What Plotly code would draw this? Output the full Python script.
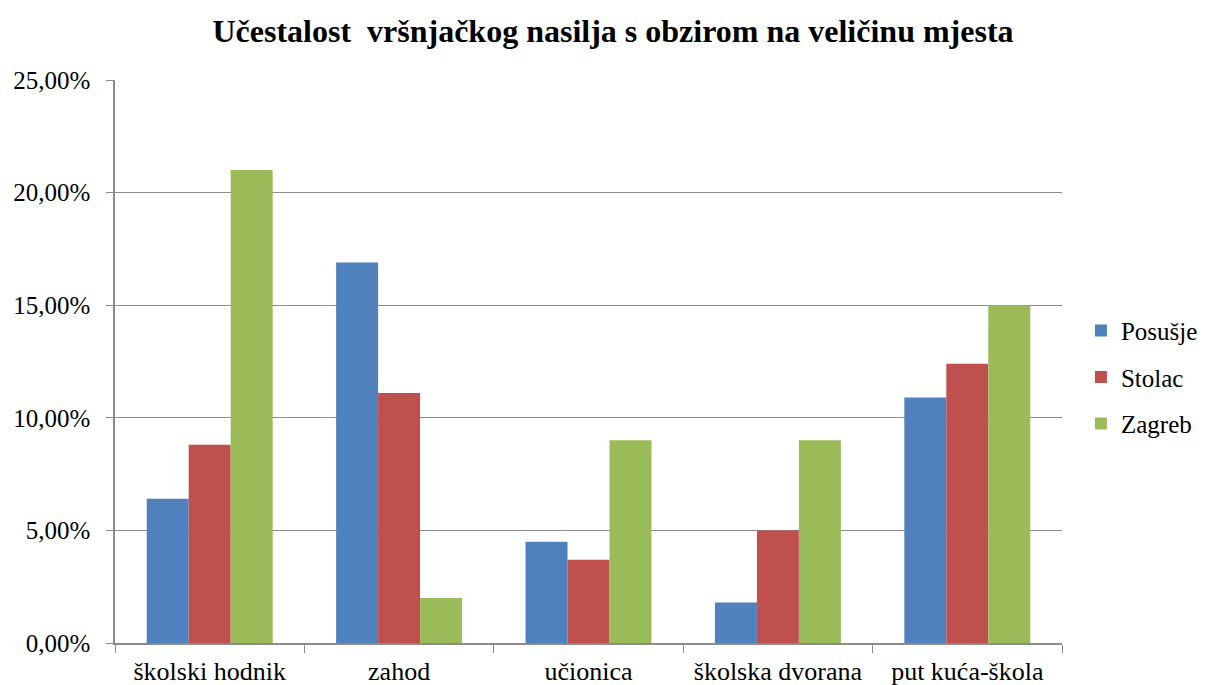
import plotly.graph_objects as go

categories = ["školski hodnik", "zahod", "učionica", "školska dvorana", "put kuća-škola"]
posusje = [0.064, 0.169, 0.045, 0.018, 0.109]
stolac = [0.088, 0.111, 0.037, 0.050, 0.124]
zagreb = [0.210, 0.020, 0.090, 0.090, 0.150]

series = [("Posušje", posusje, "#4F81BD"), ("Stolac", stolac, "#C0504D"), ("Zagreb", zagreb, "#9BBB59")]

fig = go.Figure()
for name, vals, col in series:
    fig.add_trace(go.Bar(x=categories, y=vals, name=name, marker_color=col,
                         marker_line_width=0, legendgroup=name))

font = "'Times New Roman', 'Liberation Serif', 'DejaVu Serif', serif"
W, H = 1199, 677
fig.update_layout(
    width=W, height=H,
    paper_bgcolor="white", plot_bgcolor="white",
    margin=dict(l=107, r=145, t=72, b=42, autoexpand=False),
    separators=",.",
    font=dict(family=font, size=25, color="black"),
    title=dict(text="<b>Učestalost \u00a0vršnjačkog nasilja s obzirom na veličinu mjesta</b>",
               x=(613 - 8) / W, xanchor="center", y=1 - 23 / H, yanchor="middle",
               font=dict(family=font, size=32, color="black")),
    bargap=0.335, bargroupgap=0,
    legend=dict(x=1.02, xanchor="left", y=0.472, yanchor="middle",
                font=dict(family=font, size=25), tracegroupgap=11,
                traceorder="grouped", bgcolor="rgba(0,0,0,0)"),
    showlegend=True,
)
fig.update_xaxes(showline=True, linecolor="#8c8c8c", linewidth=1.5,
                 ticks="outside", tickson="boundaries", ticklen=8, tickcolor="#8c8c8c",
                 ticklabelstandoff=4,
                 tickfont=dict(family=font, size=26), showgrid=False)
fig.update_yaxes(range=[0, 0.25], dtick=0.05, tickformat=".2%",
                 showline=True, linecolor="#8c8c8c", linewidth=1.5,
                 ticks="outside", ticklen=7, tickcolor="#8c8c8c",
                 ticklabelstandoff=11,
                 showgrid=True, gridcolor="#8c8c8c", gridwidth=1.4,
                 tickfont=dict(family=font, size=25), zeroline=False)
fig.write_html("out.html")
